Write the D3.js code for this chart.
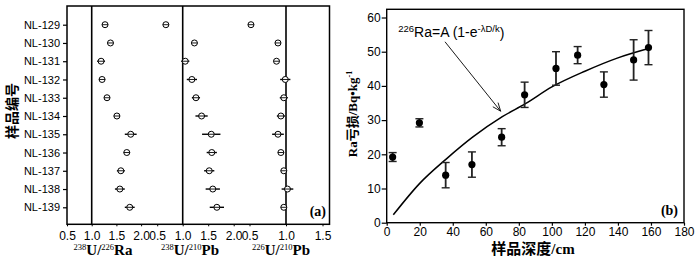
<!DOCTYPE html>
<html><head><meta charset="utf-8">
<script src="https://cdn.jsdelivr.net/npm/d3@7/dist/d3.min.js"></script>
<style>
html,body{margin:0;padding:0;background:#fff;}
svg{display:block;}
.tk text{font-family:"Liberation Sans",Arial,sans-serif;fill:#000;}
</style></head>
<body>
<svg id="c" width="700" height="261"></svg>
<script>
// ---------- Panel (a) data ----------
const samples = ["NL-129","NL-130","NL-131","NL-132","NL-133","NL-134","NL-135","NL-136","NL-137","NL-138","NL-139"];
const u238Ra226    = [1.27,1.38,1.19,1.21,1.31,1.51,1.79,1.71,1.59,1.57,1.77];
const u238Ra226Err = [0.03,0.03,0.08,0.06,0.04,0.06,0.12,0.06,0.08,0.10,0.10];
const u238Pb210    = [0.67,1.23,1.05,1.18,1.26,1.37,1.56,1.57,1.52,1.59,1.67];
const u238Pb210Err = [0.03,0.03,0.08,0.10,0.08,0.12,0.18,0.10,0.10,0.14,0.14];
const u226Pb210    = [0.52,0.89,0.87,0.99,0.97,0.93,0.89,0.93,0.97,1.02,0.97];
const u226Pb210Err = [0.02,0.03,0.03,0.07,0.055,0.055,0.08,0.04,0.04,0.08,0.04];
const ticksA12 = [0.5,1.0,1.5,2.0];
const ticksA3  = [0.5,1.0,1.5];

// ---------- Panel (b) data ----------
const depth    = [3.6,19.8,35.7,51.6,69.6,83.5,102.5,115.6,131.5,149.5,158.5];
const raLoss   = [19.2,29.2,13.9,17.0,25.0,37.4,45.1,49.0,40.4,47.6,51.2];
const raLossErr= [1.3,1.2,3.7,3.7,2.5,3.7,4.9,2.5,3.7,5.9,5.0];
const curveDepth = [4,20,36,52,70,84,100,120,140,159];
const curveValue = [2.3,11.5,18.6,25,31,34.8,39.7,44.3,48.2,51];
const ticksBx = [0,20,40,60,80,100,120,140,160,180];
const ticksBy = [0,10,20,30,40,50,60];

const svg = d3.select("#c");
const serif = "'Liberation Serif','DejaVu Serif','Noto Sans CJK SC',serif";
const sans = "'Liberation Sans',Arial,sans-serif";

// ================= Panel (a) =================
const A = {l:67, r:329.5, t:6, b:224.3};
const y = d3.scalePoint(samples, [24.7,207.3]);
const xs = [
  d3.scaleLinear([0.5,2.0],[67,141.1]),
  d3.scaleLinear([0.5,2.0],[157.2,233.7]),
  d3.scaleLinear([0.5,1.5],[249.5,322.5])
];
const series = [[u238Ra226,u238Ra226Err],[u238Pb210,u238Pb210Err],[u226Pb210,u226Pb210Err]];

// reference lines at 1.0
xs.forEach(x=>{
  svg.append("line").attr("x1",x(1)).attr("x2",x(1)).attr("y1",A.t).attr("y2",A.b)
    .attr("stroke","#000").attr("stroke-width",1.6);
});
// frame
svg.append("rect").attr("x",A.l).attr("y",A.t).attr("width",A.r-A.l).attr("height",A.b-A.t)
  .attr("fill","none").attr("stroke","#000").attr("stroke-width",1.5);

// y axis
const ya = svg.append("g").attr("class","tk").attr("transform",`translate(${A.l},0)`)
  .call(d3.axisLeft(y).tickSize(4).tickPadding(3));
ya.select(".domain").remove();
ya.selectAll("line").attr("stroke-width",1.2);
ya.selectAll("text").attr("font-size",11);

// x axes
xs.forEach((x,i)=>{
  const g = svg.append("g").attr("class","tk").attr("transform",`translate(0,${A.b})`)
    .call(d3.axisBottom(x).tickValues(i<2?ticksA12:ticksA3).tickFormat(d3.format(".1f")).tickSize(2).tickPadding(5));
  g.select(".domain").remove();
  g.selectAll("text").attr("font-size",12);
});

// points with error bars
series.forEach(([vals,errs],i)=>{
  const x = xs[i];
  const g = svg.append("g");
  samples.forEach((s,j)=>{
    g.append("line").attr("x1",x(vals[j]-errs[j])).attr("x2",x(vals[j]+errs[j]))
      .attr("y1",y(s)).attr("y2",y(s)).attr("stroke","#000").attr("stroke-width",1.4);
    g.append("circle").attr("cx",x(vals[j])).attr("cy",y(s)).attr("r",3)
      .attr("fill","#fff").attr("stroke","#000").attr("stroke-width",1);
    g.append("line").attr("x1",x(vals[j])-3).attr("x2",x(vals[j])+3)
      .attr("y1",y(s)).attr("y2",y(s)).attr("stroke","#000").attr("stroke-width",0.9);
  });
});

// axis titles (a)
function supLabel(cx, parts){
  const t = svg.append("text").attr("x",cx).attr("y",254.5).attr("text-anchor","middle")
    .attr("font-family",serif).attr("font-weight","bold").attr("fill","#000");
  parts.forEach(([txt,sup],k)=>{
    t.append("tspan").text(txt).attr("font-size",sup?8.5:15).attr("font-weight",sup?"normal":"bold")
      .attr("dy",sup?-4.5:(k===0?0:4.5));
  });
  return t;
}
supLabel(103,[["238",1],["U/",0],["226",1],["Ra",0]]);
supLabel(190,[["238",1],["U/",0],["210",1],["Pb",0]]);
supLabel(281,[["226",1],["U/",0],["210",1],["Pb",0]]);

svg.append("text").attr("x",326).attr("y",216).attr("text-anchor","end")
  .attr("font-family",serif).attr("font-weight","bold").attr("font-size",14).text("(a)");

svg.append("text").attr("transform","translate(17,111) rotate(-90)").attr("text-anchor","middle")
  .attr("font-family","'Noto Sans CJK SC',sans-serif").attr("font-weight","bold").attr("font-size",14)
  .text("样品编号");

// ================= Panel (b) =================
const B = {l:386.7, r:684, t:9.3, b:222.7};
const xB = d3.scaleLinear([0,180],[B.l,B.r]);
const yB = d3.scaleLinear([0,62.4],[B.b,B.t]);

svg.append("rect").attr("x",B.l).attr("y",B.t).attr("width",B.r-B.l).attr("height",B.b-B.t)
  .attr("fill","none").attr("stroke","#000").attr("stroke-width",1.4);

const xa = svg.append("g").attr("class","tk").attr("transform",`translate(0,${B.b})`)
  .call(d3.axisBottom(xB).tickValues(ticksBx).tickSize(3).tickPadding(2));
xa.select(".domain").remove();
xa.selectAll("text").attr("font-size",12);
xa.selectAll("line").attr("stroke-width",1.2);
const yaB = svg.append("g").attr("class","tk").attr("transform",`translate(${B.l},0)`)
  .call(d3.axisLeft(yB).tickValues(ticksBy).tickSize(5).tickPadding(1));
yaB.select(".domain").remove();
yaB.selectAll("text").attr("font-size",12);
yaB.selectAll("line").attr("stroke-width",1.2);

// fitted curve
const cData = curveDepth.map((d,i)=>[d,curveValue[i]]);
svg.append("path").datum(cData)
  .attr("d",d3.line().x(d=>xB(d[0])).y(d=>yB(d[1])).curve(d3.curveMonotoneX))
  .attr("fill","none").attr("stroke","#000").attr("stroke-width",1.5);

// error bars and points
const gb = svg.append("g");
depth.forEach((d,i)=>{
  const cx = xB(d), y0 = yB(raLoss[i]-raLossErr[i]), y1 = yB(raLoss[i]+raLossErr[i]);
  gb.append("line").attr("x1",cx).attr("x2",cx).attr("y1",y0).attr("y2",y1).attr("stroke","#222").attr("stroke-width",1.8);
  [y0,y1].forEach(yy=>gb.append("line").attr("x1",cx-4).attr("x2",cx+4).attr("y1",yy).attr("y2",yy)
    .attr("stroke","#222").attr("stroke-width",1.4));
  gb.append("circle").attr("cx",cx).attr("cy",yB(raLoss[i])).attr("r",3.6).attr("fill","#000");
});

// formula + arrow
const ft = svg.append("text").attr("x",xB(7)).attr("y",yB(54.2)).attr("font-family",sans).attr("fill","#000");
[["226",1],["Ra=A",0],[" (1-e",0],["-λD/k",1],[")",0]].forEach(([t,s],k)=>{
  ft.append("tspan").text(t).attr("font-size",s?9.5:14)
    .attr("dy", k===0? -5 : (s? -5 : (k===1?5:(k===2?0:6))));
});
ft.selectAll("tspan").filter((d,k)=>k===2).attr("xml:space","preserve");

const ax0 = xB(35.3), ay0 = yB(52.9), ax1 = xB(69), ay1 = yB(32.6);
svg.append("line").attr("x1",ax0).attr("y1",ay0).attr("x2",ax1).attr("y2",ay1).attr("stroke","#000").attr("stroke-width",0.9);
const ang = Math.atan2(ay1-ay0, ax1-ax0), L = 9, w = 0.38;
svg.append("path").attr("d",`M${ax1-L*Math.cos(ang-w)},${ay1-L*Math.sin(ang-w)}L${ax1},${ay1}L${ax1-L*Math.cos(ang+w)},${ay1-L*Math.sin(ang+w)}`)
  .attr("fill","none").attr("stroke","#000").attr("stroke-width",0.9);

svg.append("text").attr("x",678).attr("y",215).attr("text-anchor","end")
  .attr("font-family",serif).attr("font-weight","bold").attr("font-size",14).text("(b)");

// axis titles (b)
svg.append("text").attr("x",533).attr("y",254).attr("text-anchor","middle")
  .attr("font-family",serif).attr("font-weight","bold").attr("font-size",15).text("样品深度/cm");

const yt = svg.append("text").attr("transform","translate(357,114) rotate(-90)").attr("text-anchor","middle")
  .attr("font-family",serif).attr("font-weight","bold").attr("font-size",13);
yt.append("tspan").text("Ra亏损/Bq•kg");
yt.append("tspan").text("-1").attr("font-size",8).attr("dy",-5);
</script>
</body></html>
